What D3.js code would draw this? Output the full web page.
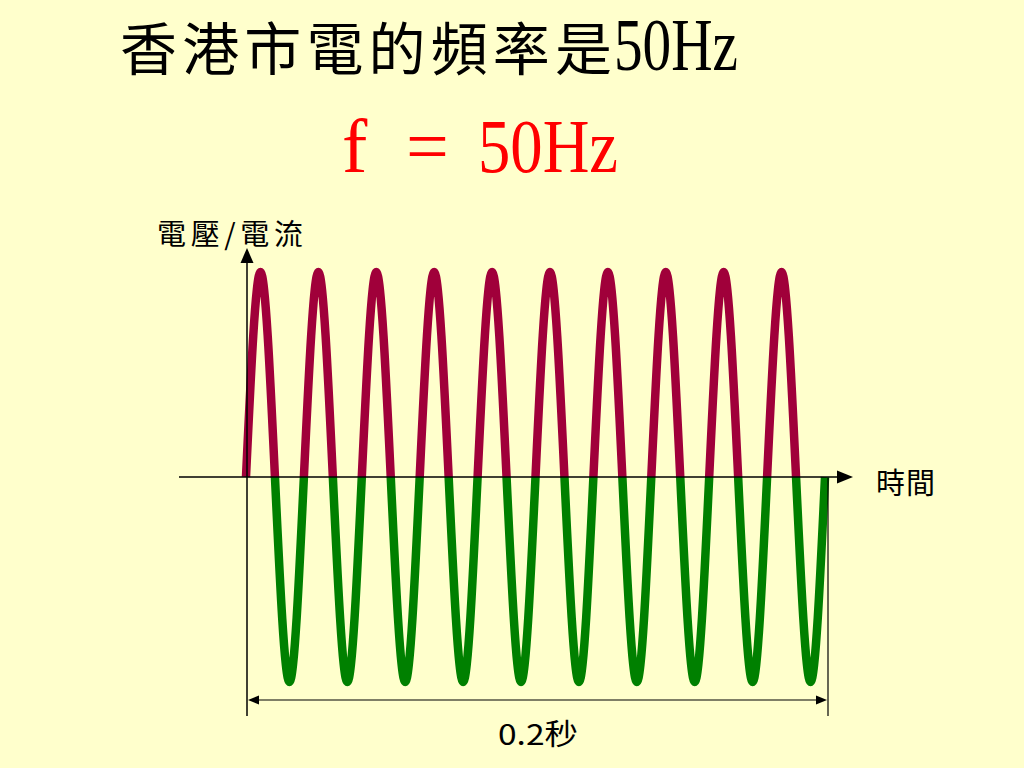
<!DOCTYPE html>
<html>
<head>
<meta charset="utf-8">
<script src="https://cdn.jsdelivr.net/npm/d3@7"></script>
<style>
html,body{margin:0;padding:0;background:#FFFFCC;}
svg{display:block;}
</style>
</head>
<body>
<svg id="chart" width="1024" height="768"></svg>
<script>
// ---- data ----
const titleText = "香港市電的頻率是";
const titleHz = "50Hz";
const formulaParts = ["f", "=", "50Hz"];
const yAxisLabel = "電壓/電流";
const xAxisLabel = "時間";
const spanLabel = "0.2秒";
const timeDomain = [0, 0.2]; // seconds
// samples every quarter period (0.005 s) of a 50 Hz supply
const sampleTimes = [0,0.005,0.01,0.015,0.02,0.025,0.03,0.035,0.04,0.045,0.05,0.055,0.06,0.065,0.07,0.075,0.08,0.085,0.09,0.095,0.1,0.105,0.11,0.115,0.12,0.125,0.13,0.135,0.14,0.145,0.15,0.155,0.16,0.165,0.17,0.175,0.18,0.185,0.19,0.195,0.2];
const sampleValues = [0,1,0,-1,0,1,0,-1,0,1,0,-1,0,1,0,-1,0,1,0,-1,0,1,0,-1,0,1,0,-1,0,1,0,-1,0,1,0,-1,0,1,0,-1,0];

// ---- layout ----
const svg = d3.select("#chart");
const W = 1024, H = 768;
svg.append("rect").attr("width", W).attr("height", H).attr("fill", "#FFFFCC");

const x = d3.scaleLinear().domain(timeDomain).range([246, 825]);
const y = d3.scaleLinear().domain([-1, 1]).range([682, 272]);
const y0 = y(0);

const pts = sampleTimes.map((t, i) => ({t, v: sampleValues[i]}));
const line = d3.line().x(d => x(d.t)).y(d => y(d.v)).curve(d3.curveNatural);

const defs = svg.append("defs");
defs.append("clipPath").attr("id", "posClip").append("rect")
  .attr("x", 0).attr("y", 0).attr("width", W).attr("height", y0);
defs.append("clipPath").attr("id", "negClip").append("rect")
  .attr("x", 0).attr("y", y0).attr("width", W).attr("height", H - y0);

// wave
svg.append("path").datum(pts).attr("d", line)
  .attr("fill", "none").attr("stroke", "#A0003A").attr("stroke-width", 8.5)
  .attr("clip-path", "url(#posClip)");
svg.append("path").datum(pts).attr("d", line)
  .attr("fill", "none").attr("stroke", "#008000").attr("stroke-width", 8.5)
  .attr("clip-path", "url(#negClip)");

// axes
const ax = svg.append("g").attr("stroke", "#000").attr("fill", "#000");
const xAxisStart = 179, xAxisEnd = 840;
ax.append("line").attr("x1", xAxisStart).attr("x2", xAxisEnd).attr("y1", y0).attr("y2", y0).attr("stroke-width", 1.5);
ax.append("path").attr("stroke", "none")
  .attr("d", `M${xAxisEnd - 3},${y0 - 6.5}L${xAxisEnd + 13},${y0}L${xAxisEnd - 3},${y0 + 6.5}Z`);

const yAxisX = x(0) + 1;
const yAxisBottom = 716, yAxisTop = 262;
ax.append("line").attr("x1", yAxisX).attr("x2", yAxisX).attr("y1", yAxisBottom).attr("y2", yAxisTop).attr("stroke-width", 1.5);
ax.append("path").attr("stroke", "none")
  .attr("d", `M${yAxisX - 6.5},${yAxisTop + 1}L${yAxisX},${yAxisTop - 14}L${yAxisX + 6.5},${yAxisTop + 1}Z`);

// span marker (0.2 s)
const rightX = x(timeDomain[1]) + 3;
const dimY = 700;
ax.append("line").attr("x1", rightX).attr("x2", rightX).attr("y1", y0 + 1).attr("y2", yAxisBottom).attr("stroke-width", 1.2);
ax.append("line").attr("x1", yAxisX + 6).attr("x2", rightX - 6).attr("y1", dimY).attr("y2", dimY).attr("stroke-width", 1.2);
ax.append("path").attr("stroke", "none")
  .attr("d", `M${yAxisX + 1},${dimY}L${yAxisX + 12},${dimY - 4.5}L${yAxisX + 12},${dimY + 4.5}Z`);
ax.append("path").attr("stroke", "none")
  .attr("d", `M${rightX - 1},${dimY}L${rightX - 12},${dimY - 4.5}L${rightX - 12},${dimY + 4.5}Z`);

// texts
const cjk = "'Noto Sans CJK TC','Noto Sans CJK SC',sans-serif";
const serif = "'Liberation Serif','DejaVu Serif',serif";

const title = svg.append("text").attr("y", 70).attr("fill", "#000");
title.append("tspan").attr("x", 120).attr("font-family", cjk).attr("font-size", 57)
  .attr("textLength", 492).attr("lengthAdjust", "spacing").text(titleText);
title.append("tspan").attr("x", 614).attr("font-family", serif).attr("font-size", 74)
  .attr("textLength", 124).attr("lengthAdjust", "spacingAndGlyphs").text(titleHz);

const red = svg.append("g").attr("fill", "#FF0000").attr("font-family", serif).attr("font-size", 76);
red.append("text").attr("x", 342).attr("y", 172).text(formulaParts[0]);
red.append("text").attr("x", 406).attr("y", 172).text(formulaParts[1]);
red.append("text").attr("x", 478).attr("y", 172).attr("textLength", 140).attr("lengthAdjust", "spacingAndGlyphs").text(formulaParts[2]);

svg.append("text").attr("x", 157).attr("y", 245).attr("font-family", cjk).attr("font-size", 29)
  .attr("textLength", 146).attr("lengthAdjust", "spacing").attr("fill", "#000").text(yAxisLabel);
svg.append("text").attr("x", 876).attr("y", 494).attr("font-family", cjk).attr("font-size", 29)
  .attr("textLength", 59).attr("lengthAdjust", "spacing").attr("fill", "#000").text(xAxisLabel);
svg.append("text").attr("x", 498).attr("y", 745).attr("font-family", cjk).attr("font-size", 29)
  .attr("textLength", 80).attr("lengthAdjust", "spacingAndGlyphs").attr("fill", "#000").text(spanLabel);
</script>
</body>
</html>
